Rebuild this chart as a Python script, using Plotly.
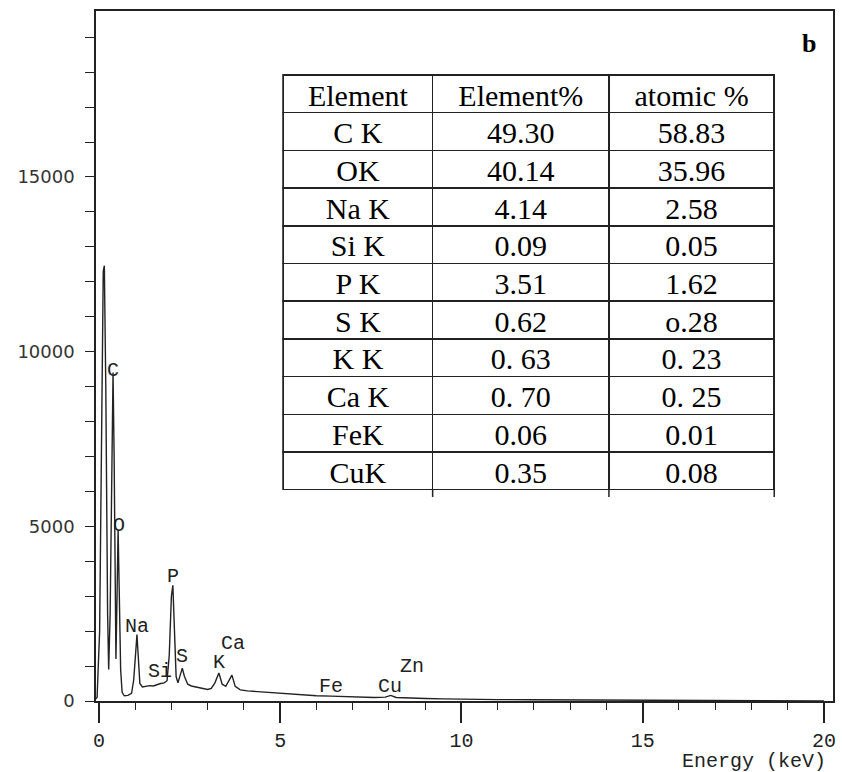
import plotly.graph_objects as go

# ---------------- data ----------------
energy_kev = [-0.15, -0.05, 0.02, 0.08, 0.12, 0.15, 0.19, 0.24, 0.27, 0.31, 0.36, 0.39, 0.42, 0.45,
              0.47, 0.50, 0.53, 0.56, 0.60, 0.64, 0.70, 0.80, 0.90, 0.96, 1.01, 1.05, 1.09, 1.13,
              1.20, 1.30, 1.40, 1.50, 1.60, 1.70, 1.80, 1.88, 1.94, 2.00, 2.04, 2.08, 2.13, 2.18,
              2.24, 2.30, 2.36, 2.45, 2.55, 2.70, 2.85, 3.00, 3.10, 3.20, 3.31, 3.40, 3.50, 3.60,
              3.67, 3.76, 3.90, 4.10, 4.40, 4.80, 5.20, 5.60, 6.00, 6.40, 6.80, 7.20, 7.60, 7.90,
              8.05, 8.20, 8.60, 9.00, 9.50, 10.0, 11.0, 12.0, 13.0, 14.0, 15.0, 16.0, 17.0, 18.0,
              19.0, 20.0]
counts = [0, 100, 2000, 9000, 12300, 12460, 9000, 2500, 900, 2500, 8000, 9400, 7000, 2000,
          1200, 3000, 4900, 3200, 900, 250, 150, 160, 220, 600, 1500, 1900, 1200, 500,
          400, 420, 440, 430, 470, 500, 520, 580, 1300, 3000, 3310, 2200, 700, 520,
          700, 940, 700, 480, 430, 400, 360, 330, 360, 520, 800, 480, 420, 600,
          740, 420, 320, 290, 270, 230, 200, 170, 150, 140, 120, 110, 100, 110,
          160, 100, 80, 70, 60, 50, 40, 35, 30, 25, 20, 18, 15, 10,
          5, 0]

peak_names = ["C", "O", "Na", "Si", "P", "S", "K", "Ca", "Fe", "Cu", "Zn"]
peak_label_kev = [0.39, 0.56, 1.04, 1.68, 2.04, 2.30, 3.32, 3.69, 6.39, 8.04, 8.63]
peak_label_counts = [9450, 5030, 2120, 845, 3560, 1270, 1090, 1660, 410, 410, 980]

x_tick_vals = [0, 5, 10, 15, 20]
y_tick_vals = [0, 5000, 10000, 15000]

table_header = ["Element", "Element%", "atomic %"]
table_elements = ["C K", "OK", "Na K", "Si K", "P K", "S K", "K K", "Ca K", "FeK", "CuK"]
table_element_pct = ["49.30", "40.14", "4.14", "0.09", "3.51", "0.62", "0. 63", "0. 70", "0.06", "0.35"]
table_atomic_pct = ["58.83", "35.96", "2.58", "0.05", "1.62", "o.28", "0. 23", "0. 25", "0.01", "0.08"]

# ---------------- layout geometry (pixels) ----------------
W, H = 842, 772
ML, MR, MT, MB = 96, 6, 11, 71
PW, PH = W - ML - MR, H - MT - MB


def px_x(px):
    return (px - ML) / PW


def px_y(py):
    return (H - MB - py) / PH


fig = go.Figure()

fig.add_trace(go.Scatter(
    x=energy_kev, y=counts, mode="lines",
    line=dict(color="#222222", width=1.4),
    showlegend=False, hoverinfo="skip",
))

row_h = 37.7
fig.add_trace(go.Table(
    domain=dict(x=[px_x(284), px_x(777)], y=[px_y(500), px_y(75)]),
    columnwidth=[150, 177, 166],
    header=dict(
        values=table_header, height=row_h, align="center",
        font=dict(family="Liberation Serif", size=30, color="black"),
        line=dict(color="#222222", width=1.5), fill=dict(color="white"),
    ),
    cells=dict(
        values=[table_elements, table_element_pct, table_atomic_pct],
        height=row_h, align="center",
        font=dict(family="Liberation Serif", size=30, color="black"),
        line=dict(color="#222222", width=1.5), fill=dict(color="white"),
    ),
))

annotations = []
for name, xk, yc in zip(peak_names, peak_label_kev, peak_label_counts):
    annotations.append(dict(
        x=xk, y=yc, xref="x", yref="y", text=name, showarrow=False,
        font=dict(family="Liberation Mono", size=20, color="#222222"),
        xanchor="center", yanchor="middle",
    ))

annotations.append(dict(
    x=px_x(831), y=px_y(761), xref="paper", yref="paper", text="Energy (keV)",
    showarrow=False, xanchor="right", yanchor="middle",
    font=dict(family="Liberation Mono", size=20, color="#222222"),
))
annotations.append(dict(
    x=px_x(812), y=px_y(43), xref="paper", yref="paper", text="<b>b</b>",
    showarrow=False, xanchor="center", yanchor="middle",
    font=dict(family="Liberation Serif", size=26, color="black"),
))

shapes = []
for sx in [434, 611, 777]:
    shapes.append(dict(type="line", xref="paper", yref="paper",
                       x0=px_x(sx), x1=px_x(sx), y0=px_y(489), y1=px_y(497),
                       line=dict(color="#222222", width=1.5)))

fig.update_layout(
    width=W, height=H,
    margin=dict(l=ML, r=MR, t=MT, b=MB, pad=0),
    paper_bgcolor="white", plot_bgcolor="white",
    showlegend=False,
    annotations=annotations,
    shapes=shapes,
    xaxis=dict(
        range=[-0.08, 20.25], tickvals=x_tick_vals, ticktext=[str(v) for v in x_tick_vals],
        ticks="outside", ticklen=20, tickwidth=1.5, tickcolor="#222222",
        minor=dict(dtick=1, tick0=0, ticks="outside", ticklen=7, tickwidth=1.3, tickcolor="#222222"),
        showline=True, linecolor="#222222", linewidth=1.5, mirror=True,
        showgrid=False, zeroline=False, ticklabelstandoff=0,
        tickfont=dict(family="Liberation Mono", size=20, color="#222222"),
    ),
    yaxis=dict(
        range=[0, 19750], tickvals=y_tick_vals, ticktext=[str(v) for v in y_tick_vals],
        ticks="outside", ticklen=0, tickcolor="#222222",
        minor=dict(dtick=1000, tick0=0, ticks="outside", ticklen=9, tickwidth=1.3, tickcolor="#222222"),
        showline=True, linecolor="#222222", linewidth=1.5, mirror=True,
        showgrid=False, zeroline=False, ticklabelstandoff=16,
        tickfont=dict(family="DejaVu Sans", size=18, color="#333333"),
    ),
)

fig.write_html("out.html")
